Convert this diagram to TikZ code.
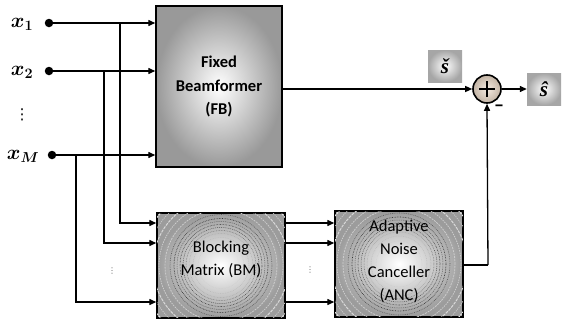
\documentclass[tikz,border=0pt]{standalone}
\usepackage{fontspec}
\setmainfont{Carlito}
\newfontfamily\dejavu{DejaVu Sans}
\newfontfamily\sigfont{Liberation Serif}
\usetikzlibrary{arrows.meta}
\tikzset{
  wire/.style={line width=1.3pt, draw=black},
  arr/.style={wire, -{Triangle[length=7pt,width=6pt]}},
  fbbox/.style={draw=black, line width=1.4pt, shade, inner color=white, outer color=gray!80,
     minimum width=126pt, minimum height=161pt, align=center, font=\bfseries\fontsize{16.5}{23.5}\selectfont},
  texbox/.style={draw=black, line width=1.4pt, shade, inner color=white, outer color=gray!78,
     minimum width=128pt, minimum height=105pt},
  boxtext/.style={align=center, font=\fontsize{16.5}{23}\selectfont},
  sigbox/.style={shade, inner color=white, outer color=gray!70, minimum width=34pt, minimum height=32pt, font=\sigfont\bfseries\itshape\fontsize{21}{22}\selectfont},
  indot/.style={circle, fill=black, inner sep=0pt, minimum size=8.5pt},
  lbl/.style={font=\fontsize{21}{22}\selectfont\boldmath},
  vdot/.style={font=\dejavu\fontsize{15}{16}\selectfont, inner sep=0pt},
}
\begin{document}
\begin{tikzpicture}[x=1pt,y=-1pt]
\useasboundingbox (0,0) rectangle (563,324);
% blocks
\node[fbbox] (fb) at (219,86.5) {Fixed\\Beamformer\\(FB)};
\node[texbox] (bm) at (221,265.5) {};
\node[texbox, minimum height=106pt] (anc) at (399,264) {};
\foreach \b in {bm,anc}{
  \begin{scope}
    \clip (\b.south west) rectangle (\b.north east);
    \foreach \r/\c/\d/\w in {80/white!80!gray/2/1.0,74/gray!45/1.2/0.8,68/white!70!gray/3/1.0,62/gray!40/1.5/0.8,56/white!60!gray/2/0.8,51/black!65/0.8/0.6,47/black!80/0.6/0.7,44/black!60/1.2/0.5,41/black!85/0.5/0.6,38/black!70/0.9/0.5,35/black!60/0.6/0.5,32/gray!70/0.5/0.5,28/gray!55/0.7/0.5,23/gray!40/0.5/0.5,18/gray!25/0.5/0.4}
      \draw[\c, line width=\w pt, dash pattern=on \d pt off 1pt] (\b.center) circle (\r pt);
  \end{scope}
  \draw[line width=1.4pt] (\b.south west) rectangle (\b.north east);
}
\node[boxtext, font=\fontsize{16.5}{22.5}\selectfont] (bmt) at (221,259.5) {Blocking\\Matrix (BM)};
\node[boxtext] (anct) at (399,261.5) {Adaptive\\Noise\\Canceller\\(ANC)};
% inputs
\node[indot] (d1) at (49,23) {};
\node[indot] (d2) at (49,71) {};
\node[indot] (dm) at (52,155) {};
\node[lbl] (l1) at (22,24) {$x_1$};
\node[lbl] (l2) at (22,72) {$x_2$};
\node[lbl] (lm) at (23,156) {$x_M$};
\node[vdot] (vd) at (22,115) {⋮};
% branch points
\coordinate (b1) at (120,23);
\coordinate (b2) at (104,71);
\coordinate (bm3) at (76,155);
\draw[arr] (d1) -- (fb.west |- d1);
\draw[arr] (d2) -- (fb.west |- d2);
\draw[arr] (dm) -- (fb.west |- dm);
\draw[arr] (b1) |- (bm.west |- 0,223);
\draw[arr] (b2) |- (bm.west |- 0,243);
\draw[arr] (bm3) |- (bm.west |- 0,302);
\node[vdot, text=gray!80!black, font=\dejavu\fontsize{8}{9}\selectfont] (g1) at (112,271) {⋮};
\node[vdot, text=gray!80!black, font=\dejavu\fontsize{8}{9}\selectfont] (g2) at (310,270) {⋮};
% BM -> ANC
\draw[arr] (bm.east |- 0,223) -- (anc.west |- 0,223);
\draw[arr] (bm.east |- 0,243) -- (anc.west |- 0,243);
\draw[arr] (bm.east |- 0,302) -- (anc.west |- 0,302);
% summer
\node[circle, draw=black, line width=1.6pt, shade, inner color=white!85!brown, outer color=gray!60!brown!60, minimum size=28pt, inner sep=0pt] (sum) at (487,89) {};
\draw[line width=1.4pt] ([xshift=-8pt]sum.center) -- ([xshift=8pt]sum.center) ([yshift=-8pt]sum.center) -- ([yshift=8pt]sum.center);
\draw[arr] (fb.east |- sum) -- (sum.west);
\coordinate (ao) at (488,265);
\draw[wire] (anc.east |- ao) -- (ao);
\draw[arr] (ao) -- (sum.south);
\node[font=\bfseries\fontsize{20}{20}\selectfont, inner sep=0pt] (minus) at (499,108) {–};
\node[sigbox] (sh) at (544,89) {ŝ};
\node[sigbox] (sb) at (445,66) {š};
\draw[arr] (sum.east) -- (sh.west);
\end{tikzpicture}
\end{document}
